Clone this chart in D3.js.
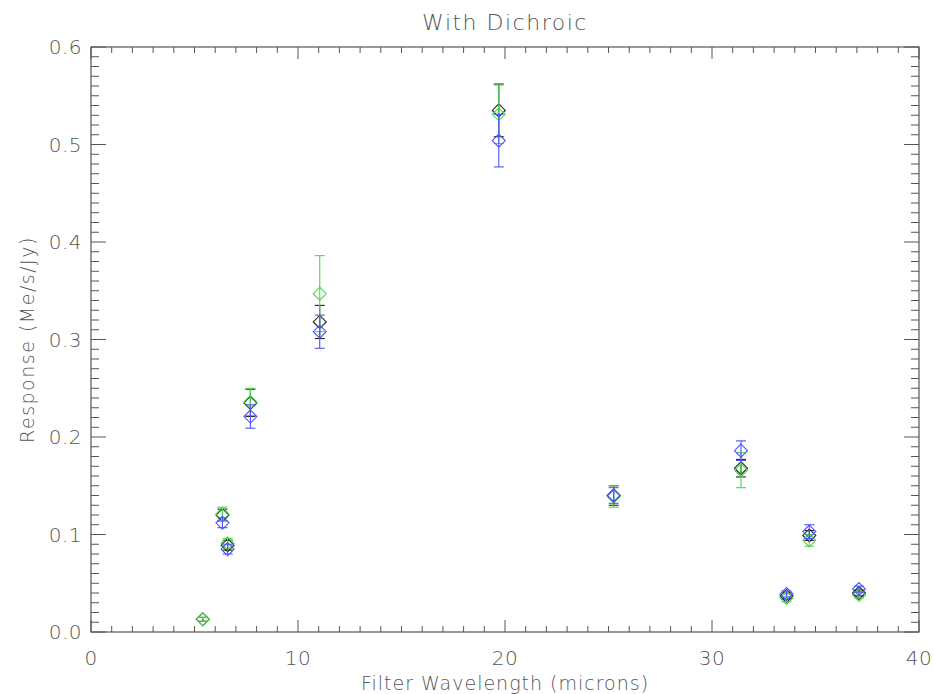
<!DOCTYPE html>
<html><head><meta charset="utf-8">
<script src="https://cdn.jsdelivr.net/npm/d3@7"></script>
<style>body{margin:0;background:#fff;} svg{display:block;} text{font-family:"DejaVu Sans",sans-serif;font-weight:200;}</style>
</head><body>
<svg id="c" width="934" height="694"></svg>
<script>
const wavelengths = [5.4, 6.35, 6.6, 7.7, 11.05, 19.7, 25.25, 31.4, 33.6, 34.7, 37.1];
const blackVals = [0.013, 0.120, 0.089, 0.235, 0.318, 0.535, 0.140, 0.168, 0.037, 0.099, 0.040];
const blackErr  = [0.002, 0.006, 0.005, 0.014, 0.017, 0.027, 0.010, 0.009, 0.003, 0.005, 0.003];
const greenVals = [0.013, 0.121, 0.091, 0.236, 0.347, 0.531, 0.139, 0.166, 0.035, 0.094, 0.038];
const greenErr  = [0.002, 0.007, 0.005, 0.014, 0.039, 0.030, 0.011, 0.018, 0.004, 0.006, 0.003];
const blueVals  = [null, 0.112, 0.085, 0.221, 0.308, 0.504, 0.140, 0.186, 0.039, 0.103, 0.044];
const blueErr   = [null, 0.005, 0.005, 0.012, 0.017, 0.027, 0.008, 0.010, 0.003, 0.007, 0.003];
const xMajorTicks = [0, 10, 20, 30, 40];
const yMajorTicks = [0.0, 0.1, 0.2, 0.3, 0.4, 0.5, 0.6];
const titleText = "With Dichroic";
const xLabel = "Filter Wavelength (microns)";
const yLabel = "Response (Me/s/Jy)";

const W = 934, H = 694;
const m = {l: 91, r: 15, t: 47, b: 62};
const svg = d3.select("#c");
const x = d3.scaleLinear().domain([0, 40]).range([m.l, W - m.r]);
const y = d3.scaleLinear().domain([0, 0.6]).range([H - m.b, m.t]);
const axisColor = "#555";
const textColor = "#555";

// frame
svg.append("rect").attr("x", m.l).attr("y", m.t)
  .attr("width", W - m.r - m.l).attr("height", H - m.b - m.t)
  .attr("fill", "none").attr("stroke", axisColor).attr("stroke-width", 1.2);

const xMinor = d3.range(0, 41, 1);
const yMinor = d3.range(0, 61, 1).map(d => d / 100);

function isMajorX(v){ return xMajorTicks.some(t => Math.abs(t - v) < 1e-9); }
function isMajorY(v){ return yMajorTicks.some(t => Math.abs(t - v) < 1e-9); }

const tg = svg.append("g").attr("stroke", axisColor).attr("stroke-width", 1);
xMinor.forEach(v => {
  const L = isMajorX(v) ? 12 : 6;
  const px = x(v);
  tg.append("line").attr("x1", px).attr("x2", px).attr("y1", y(0)).attr("y2", y(0) - L);
  tg.append("line").attr("x1", px).attr("x2", px).attr("y1", y(0.6)).attr("y2", y(0.6) + L);
});
yMinor.forEach(v => {
  const L = isMajorY(v) ? 15 : 8;
  const py = y(v);
  tg.append("line").attr("x1", x(0)).attr("x2", x(0) + L).attr("y1", py).attr("y2", py);
  tg.append("line").attr("x1", x(40)).attr("x2", x(40) - L).attr("y1", py).attr("y2", py);
});

// tick labels
svg.append("g").selectAll("text").data(xMajorTicks).join("text")
  .attr("x", d => x(d)).attr("y", y(0) + 33)
  .attr("text-anchor", "middle").attr("font-size", 20).attr("letter-spacing", 0.5).attr("fill", textColor)
  .text(d => d3.format("d")(d));
svg.append("g").selectAll("text").data(yMajorTicks).join("text")
  .attr("x", x(0) - 9).attr("y", d => y(d) + 7)
  .attr("text-anchor", "end").attr("font-size", 20).attr("letter-spacing", 0.5).attr("fill", textColor)
  .text(d => d3.format(".1f")(d));

// titles
svg.append("text").attr("x", (m.l + W - m.r) / 2).attr("y", 30)
  .attr("text-anchor", "middle").attr("font-size", 22).attr("letter-spacing", 1.5).attr("fill", textColor).text(titleText);
svg.append("text").attr("x", (m.l + W - m.r) / 2).attr("y", 690)
  .attr("text-anchor", "middle").attr("font-size", 19).attr("letter-spacing", 1.0).attr("fill", textColor).text(xLabel);
svg.append("text").attr("transform", `translate(34,${(m.t + H - m.b) / 2}) rotate(-90)`)
  .attr("text-anchor", "middle").attr("font-size", 19).attr("letter-spacing", 1.5).attr("fill", textColor).text(yLabel);

// series
const series = [
  {vals: blackVals, err: blackErr, color: "#222"},
  {vals: greenVals, err: greenErr, color: "#4cd84c"},
  {vals: blueVals, err: blueErr, color: "#5050ff"}
];
const cap = 5, dsz = 6.5;
series.forEach(s => {
  const g = svg.append("g").attr("stroke", s.color).attr("fill", "none").attr("stroke-width", 1.1);
  const pts = wavelengths.map((w, i) => ({w, v: s.vals[i], e: s.err[i]})).filter(p => p.v != null);
  pts.forEach(p => {
    const px = x(p.w), py = y(p.v), y1 = y(p.v + p.e), y2 = y(p.v - p.e);
    g.append("line").attr("x1", px).attr("x2", px).attr("y1", y1).attr("y2", y2);
    g.append("line").attr("x1", px - cap).attr("x2", px + cap).attr("y1", y1).attr("y2", y1);
    g.append("line").attr("x1", px - cap).attr("x2", px + cap).attr("y1", y2).attr("y2", y2);
    g.append("path").attr("d", `M${px},${py - dsz}L${px + dsz},${py}L${px},${py + dsz}L${px - dsz},${py}Z`);
  });
});
</script>
</body></html>
